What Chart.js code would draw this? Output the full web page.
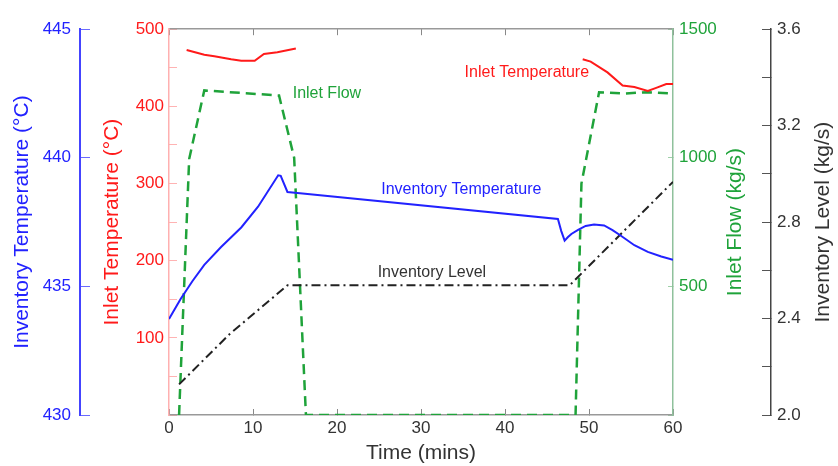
<!DOCTYPE html>
<html lang="en">
<head>
    <meta charset="UTF-8">
    <title>Inventory and Inlet Conditions</title>
    <script src="https://cdn.jsdelivr.net/npm/chart.js@4"></script>
    <style>
        html, body { margin: 0; padding: 0; background: #fff; }
    </style>
</head>
<body>
    <canvas id="chart" width="838" height="466"></canvas>

    <script>
        // time axis (mins)
        const timeTickLabels = [0, 10, 20, 30, 40, 50, 60];

        // Inventory Temperature (°C) - blue, outer left axis
        const invTempTimes = [0, 1.4, 2.8, 4.2, 6.2, 8.6, 10.6, 13.0, 13.3, 14.1, 15.3, 46.3, 46.7, 47.1, 47.5, 47.9, 48.7, 49.6, 50.6, 51.8, 52.8, 53.8, 55.4, 57.0, 58.6, 60];
        const invTemp      = [433.73, 434.52, 435.21, 435.84, 436.53, 437.29, 438.10, 439.32, 439.30, 438.67, 438.63, 437.62, 437.15, 436.78, 436.92, 437.04, 437.20, 437.35, 437.41, 437.37, 437.19, 436.97, 436.60, 436.34, 436.16, 436.03];
        const invTempTickLabels = [430, 435, 440, 445];

        // Inlet Temperature (°C) - red, inner left axis (null = no data in between)
        const inletTempTimes = [2.1, 4.2, 5.4, 7.4, 8.6, 10.2, 11.3, 12.9, 15.1, 30, 49.25, 50.2, 52.2, 54.0, 55.4, 57.0, 58.0, 59.2, 60];
        const inletTemp      = [473, 467, 465, 461, 459, 459, 468, 470, 475, null, 461, 458, 444, 427, 425, 420, 424, 429, 429];
        const inletTempTickLabels = [100, 200, 300, 400, 500];

        // Inlet Flow (kg/s) - green, inner right axis
        const flowTimes = [1.2, 2.4, 4.2, 13.1, 14.9, 16.3, 48.4, 49.1, 51.2, 54.2, 57.0, 60];
        const flow      = [0, 995, 1262, 1242, 1000, 0, 0, 900, 1255, 1250, 1255, 1250];
        const flowTickLabels = [500, 1000, 1500];

        // Inventory Level (kg/s) - black, outer right axis
        const levelTimes = [1.2, 7.2, 14.1, 47.7, 60];
        const level      = [2.127, 2.335, 2.538, 2.538, 2.967];
        const levelTickLabels = ['2.0', '2.4', '2.8', '3.2', '3.6'];

        const FONT = "'Liberation Sans', Arial, sans-serif";
        const BLUE = '#2222ff';
        const RED = '#ff1a1a';
        const GREEN = '#1fa33a';
        const DARK = '#333333';

        // in-plot series names, anchored in data units
        const seriesLabels = [
            { text: 'Inlet Temperature', axis: 'yRed', t: 42.6, v: 444, color: RED },
            { text: 'Inlet Flow', axis: 'yFlow', t: 18.8, v: 1248, color: GREEN },
            { text: 'Inventory Temperature', axis: 'yInv', t: 34.8, v: 438.78, color: BLUE },
            { text: 'Inventory Level', axis: 'yLevel', t: 31.3, v: 2.59, color: DARK }
        ];

        // right-hand titles read bottom-to-top, so they are drawn by hand
        const rightTitles = [
            { axis: 'yFlow', text: 'Inlet Flow (kg/s)', color: GREEN, inset: 36 },
            { axis: 'yLevel', text: 'Inventory Level (kg/s)', color: DARK, inset: 15 }
        ];

        function pts(xs, ys) {
            return xs.map((x, i) => ({ x: x, y: ys[i] }));
        }

        const overlayPlugin = {
            id: 'overlay',
            afterDatasetsDraw(chart) {
                const ctx = chart.ctx;
                const s = chart.scales;
                const area = chart.chartArea;
                ctx.save();
                ctx.textAlign = 'center';
                ctx.textBaseline = 'middle';

                ctx.font = '16px ' + FONT;
                seriesLabels.forEach(l => {
                    ctx.fillStyle = l.color;
                    ctx.fillText(l.text, s.x.getPixelForValue(l.t), s[l.axis].getPixelForValue(l.v));
                });

                ctx.font = '21px ' + FONT;
                rightTitles.forEach(r => {
                    ctx.save();
                    ctx.translate(s[r.axis].right - r.inset, (area.top + area.bottom) / 2);
                    ctx.rotate(-Math.PI / 2);
                    ctx.fillStyle = r.color;
                    ctx.fillText(r.text, 0, 0);
                    ctx.restore();
                });
                ctx.restore();
            }
        };

        const tickFont = { family: FONT, size: 17 };
        const titleFont = { family: FONT, size: 21 };

        new Chart(document.getElementById('chart'), {
            type: 'line',
            data: {
                datasets: [
                    {
                        label: 'Inventory Temperature',
                        data: pts(invTempTimes, invTemp),
                        yAxisID: 'yInv',
                        borderColor: BLUE,
                        borderWidth: 2
                    },
                    {
                        label: 'Inlet Temperature',
                        data: pts(inletTempTimes, inletTemp),
                        yAxisID: 'yRed',
                        borderColor: RED,
                        borderWidth: 2
                    },
                    {
                        label: 'Inventory Level',
                        data: pts(levelTimes, level),
                        yAxisID: 'yLevel',
                        borderColor: '#222',
                        borderWidth: 2,
                        borderDash: [9, 4, 2, 4]
                    },
                    {
                        label: 'Inlet Flow',
                        data: pts(flowTimes, flow),
                        yAxisID: 'yFlow',
                        borderColor: GREEN,
                        borderWidth: 2.5,
                        borderDash: [10, 6]
                    }
                ]
            },
            options: {
                responsive: false,
                animation: false,
                layout: { padding: { top: 17, left: 0, right: 0, bottom: 0 } },
                elements: { point: { radius: 0 }, line: { tension: 0 } },
                plugins: { legend: { display: false }, tooltip: { enabled: false } },
                scales: {
                    x: {
                        type: 'linear',
                        position: 'bottom',
                        min: 0, max: 60,
                        ticks: {
                            stepSize: 10, color: DARK, font: tickFont, padding: 9, maxRotation: 0,
                            callback: v => timeTickLabels.includes(v) ? v : ''
                        },
                        grid: { drawOnChartArea: false, tickLength: -6, tickColor: '#888' },
                        border: { color: '#999', width: 1.5 },
                        title: { display: true, text: 'Time (mins)', color: DARK, font: titleFont, padding: 0 },
                        afterFit: s => { s.height = 51; }
                    },
                    xTop: {
                        type: 'linear',
                        position: 'top',
                        min: 0, max: 60,
                        ticks: { display: false, stepSize: 10 },
                        grid: { drawOnChartArea: false, tickLength: -6, tickColor: '#888' },
                        border: { color: '#999', width: 1.5 },
                        afterFit: s => { s.height = 0; }
                    },
                    yRed: {
                        position: 'left',
                        weight: 0,
                        min: 0, max: 500,
                        ticks: {
                            stepSize: 50, color: RED, font: tickFont, padding: 13, autoSkip: false,
                            callback: v => inletTempTickLabels.includes(v) ? v : ''
                        },
                        grid: { drawOnChartArea: false, tickLength: -8, tickColor: '#ffb3b3' },
                        border: { color: '#ffb0b0', width: 1.5 },
                        title: { display: true, text: 'Inlet Temperature (°C)', color: RED, font: titleFont, padding: { top: 20, bottom: 0 } },
                        afterFit: s => { s.width = 89; }
                    },
                    yInv: {
                        position: 'left',
                        weight: 1,
                        min: 430, max: 445,
                        ticks: {
                            stepSize: 5, color: BLUE, font: tickFont, padding: 19, autoSkip: false,
                            callback: v => invTempTickLabels.includes(v) ? v : ''
                        },
                        grid: { drawOnChartArea: false, tickLength: -10, tickColor: '#6a6aff' },
                        border: { color: '#4444ff', width: 2 },
                        title: { display: true, text: 'Inventory Temperature (°C)', color: BLUE, font: titleFont, padding: { top: 10, bottom: 0 } },
                        afterFit: s => { s.width = 80; }
                    },
                    yFlow: {
                        position: 'right',
                        weight: 0,
                        min: 0, max: 1500,
                        ticks: {
                            stepSize: 500, color: GREEN, font: tickFont, padding: 11, autoSkip: false,
                            callback: v => flowTickLabels.includes(v) ? v : ''
                        },
                        grid: { drawOnChartArea: false, tickLength: -5, tickColor: '#9fd0a8' },
                        border: { color: '#8fc19c', width: 1.5 },
                        afterFit: s => { s.width = 98; }
                    },
                    yLevel: {
                        position: 'right',
                        weight: 1,
                        min: 2.0, max: 3.6,
                        ticks: {
                            stepSize: 0.2, color: DARK, font: tickFont, padding: 15, autoSkip: false,
                            callback: v => levelTickLabels.includes(v.toFixed(1)) ? v.toFixed(1) : ''
                        },
                        grid: { drawOnChartArea: false, tickLength: -9, tickColor: '#555' },
                        border: { color: '#444', width: 1.5 },
                        afterFit: s => { s.width = 67; }
                    }
                }
            },
            plugins: [overlayPlugin]
        });
    </script>
</body>
</html>
